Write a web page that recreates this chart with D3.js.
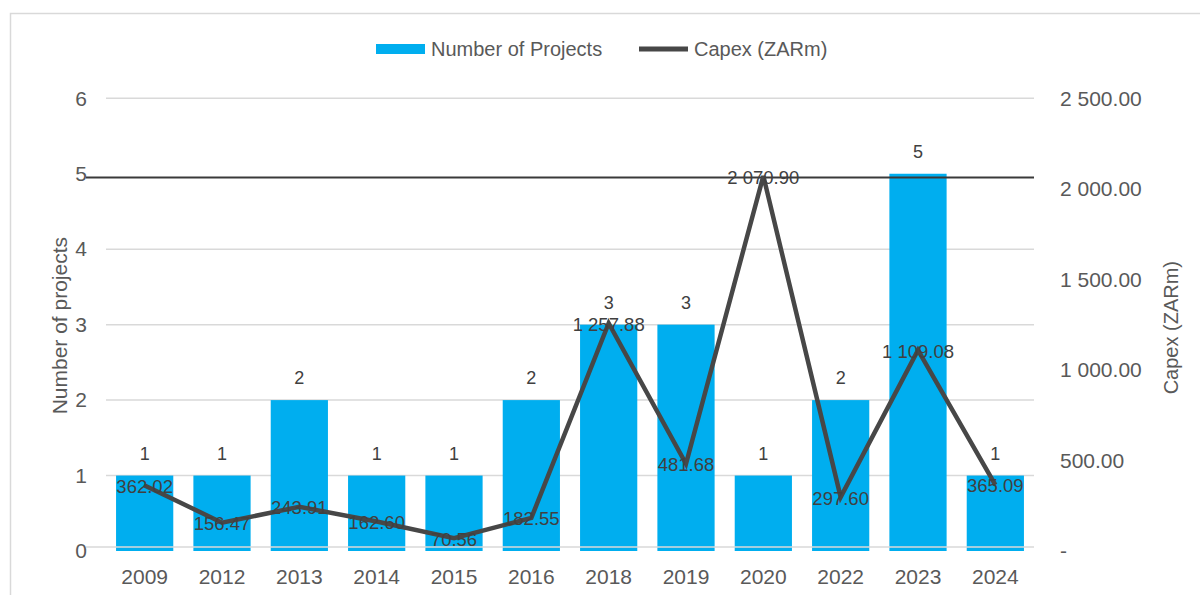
<!DOCTYPE html>
<html>
<head>
<meta charset="utf-8">
<script src="https://cdn.jsdelivr.net/npm/d3@7"></script>
<style>
  html, body { margin: 0; padding: 0; background: #fff; }
  svg { display: block; font-family: "Liberation Sans", Arial, sans-serif; }
</style>
</head>
<body>
<svg id="chart" width="1200" height="595"></svg>
<script>
// Projects per year and their capital expenditure
const years = ["2009", "2012", "2013", "2014", "2015", "2016", "2018", "2019", "2020", "2022", "2023", "2024"];
const projects = [1, 1, 2, 1, 1, 2, 3, 3, 1, 2, 5, 1];
const capex = [362.02, 156.47, 243.91, 162.60, 70.56, 182.55, 1257.88, 481.68, 2070.90, 297.60, 1109.08, 365.09];
const leftTicks = [0, 1, 2, 3, 4, 5, 6];
const rightTicks = [0, 500, 1000, 1500, 2000, 2500];

const svg = d3.select("#chart");
const plot = { left: 106, right: 1034, top: 98.3, bottom: 551 };

const locale = d3.formatLocale({ decimal: ".", thousands: " ", grouping: [3], currency: ["", ""] });
const fmtMoney = locale.format(",.2f");

const x = d3.scaleBand().domain(years).range([plot.left, plot.right]).paddingInner(0.26).paddingOuter(0.13);
const yL = d3.scaleLinear().domain([0, 6]).range([plot.bottom, plot.top]);
const yR = d3.scaleLinear().domain([0, 2500]).range([plot.bottom, plot.top]);

const textCol = "#595959";
const labelCol = "#404040";
const gridCol = "#d9d9d9";
const barCol = "#00AEEF";
const lineCol = "#474747";

// outer chart frame
svg.append("rect")
  .attr("x", 10.5).attr("y", 13.5).attr("width", 1200).attr("height", 600)
  .attr("fill", "none").attr("stroke", gridCol).attr("stroke-width", 1.5);

// horizontal gridlines (behind the bars)
svg.append("g").selectAll("line")
  .data(leftTicks.filter(d => d !== 0 && d !== 5))
  .join("line")
  .attr("x1", plot.left).attr("x2", plot.right)
  .attr("y1", d => yL(d)).attr("y2", d => yL(d))
  .attr("stroke", gridCol).attr("stroke-width", 1.5);

// bars: number of projects
svg.append("g").selectAll("rect")
  .data(years.map((yr, i) => ({ yr, v: projects[i] })))
  .join("rect")
  .attr("x", d => x(d.yr))
  .attr("width", x.bandwidth())
  .attr("y", d => yL(d.v))
  .attr("height", d => yL(0) - yL(d.v))
  .attr("fill", barCol);

// baseline drawn over the bars
svg.append("line")
  .attr("x1", 86).attr("x2", plot.right)
  .attr("y1", yL(0) - 4).attr("y2", yL(0) - 4)
  .attr("stroke", gridCol).attr("stroke-width", 1.5);

// reference line at the peak capex value
const peak = d3.max(capex);
svg.append("line")
  .attr("x1", 86).attr("x2", plot.right)
  .attr("y1", yR(peak) + 1.5).attr("y2", yR(peak) + 1.5)
  .attr("stroke", "#3a3a3a").attr("stroke-width", 2);

// capex line
const pts = years.map((yr, i) => ({ yr, v: capex[i] }));
const line = d3.line().x(d => x(d.yr) + x.bandwidth() / 2).y(d => yR(d.v));
svg.append("path")
  .datum(pts)
  .attr("d", line)
  .attr("fill", "none")
  .attr("stroke", lineCol)
  .attr("stroke-width", 4.5)
  .attr("stroke-linejoin", "miter");

// bar value labels
svg.append("g").selectAll("text")
  .data(years.map((yr, i) => ({ yr, v: projects[i] })))
  .join("text")
  .attr("x", d => x(d.yr) + x.bandwidth() / 2)
  .attr("y", d => yL(d.v) - 22)
  .attr("text-anchor", "middle")
  .attr("dominant-baseline", "central")
  .attr("font-size", 18)
  .attr("fill", labelCol)
  .text(d => d.v);

// capex value labels
svg.append("g").selectAll("text")
  .data(pts)
  .join("text")
  .attr("x", d => x(d.yr) + x.bandwidth() / 2)
  .attr("y", d => yR(d.v) + 1)
  .attr("text-anchor", "middle")
  .attr("dominant-baseline", "central")
  .attr("font-size", 18.5)
  .attr("fill", labelCol)
  .text(d => fmtMoney(d.v));

// left axis
const leftAxis = svg.append("g")
  .attr("transform", `translate(${plot.left - 19},0)`)
  .call(d3.axisLeft(yL).tickValues(leftTicks).tickSize(0).tickPadding(0).tickFormat(d3.format("d")));
leftAxis.select(".domain").remove();
leftAxis.selectAll("text").attr("font-size", 21).attr("fill", textCol).attr("font-family", "Liberation Sans, Arial, sans-serif");

// right axis
const rightAxis = svg.append("g")
  .attr("transform", `translate(${plot.right + 26},0)`)
  .call(d3.axisRight(yR).tickValues(rightTicks).tickSize(0).tickPadding(0)
    .tickFormat(d => d === 0 ? "-" : fmtMoney(d)));
rightAxis.select(".domain").remove();
rightAxis.selectAll("text").attr("font-size", 21).attr("fill", textCol).attr("font-family", "Liberation Sans, Arial, sans-serif");

// category axis
const bottomAxis = svg.append("g")
  .attr("transform", `translate(0,${plot.bottom + 18})`)
  .call(d3.axisBottom(x).tickSize(0).tickPadding(0));
bottomAxis.select(".domain").remove();
bottomAxis.selectAll("text").attr("font-size", 21).attr("fill", textCol).attr("font-family", "Liberation Sans, Arial, sans-serif");

// axis titles
svg.append("text")
  .attr("transform", `translate(67,${(plot.top + plot.bottom) / 2 + 1}) rotate(-90)`)
  .attr("text-anchor", "middle")
  .attr("font-size", 21)
  .attr("fill", textCol)
  .text("Number of projects");
svg.append("text")
  .attr("transform", `translate(1178,${(plot.top + plot.bottom) / 2 + 3}) rotate(-90)`)
  .attr("text-anchor", "middle")
  .attr("font-size", 20)
  .attr("fill", textCol)
  .text("Capex (ZARm)");

// legend
const legend = svg.append("g");
legend.append("rect").attr("x", 376).attr("y", 44).attr("width", 49).attr("height", 10).attr("fill", barCol);
legend.append("text").attr("x", 431).attr("y", 49).attr("dominant-baseline", "central")
  .attr("font-size", 20).attr("fill", textCol).text("Number of Projects");
legend.append("line").attr("x1", 639).attr("x2", 688).attr("y1", 49).attr("y2", 49)
  .attr("stroke", lineCol).attr("stroke-width", 5);
legend.append("text").attr("x", 694).attr("y", 49).attr("dominant-baseline", "central")
  .attr("font-size", 20).attr("fill", textCol).text("Capex (ZARm)");
</script>
</body>
</html>
